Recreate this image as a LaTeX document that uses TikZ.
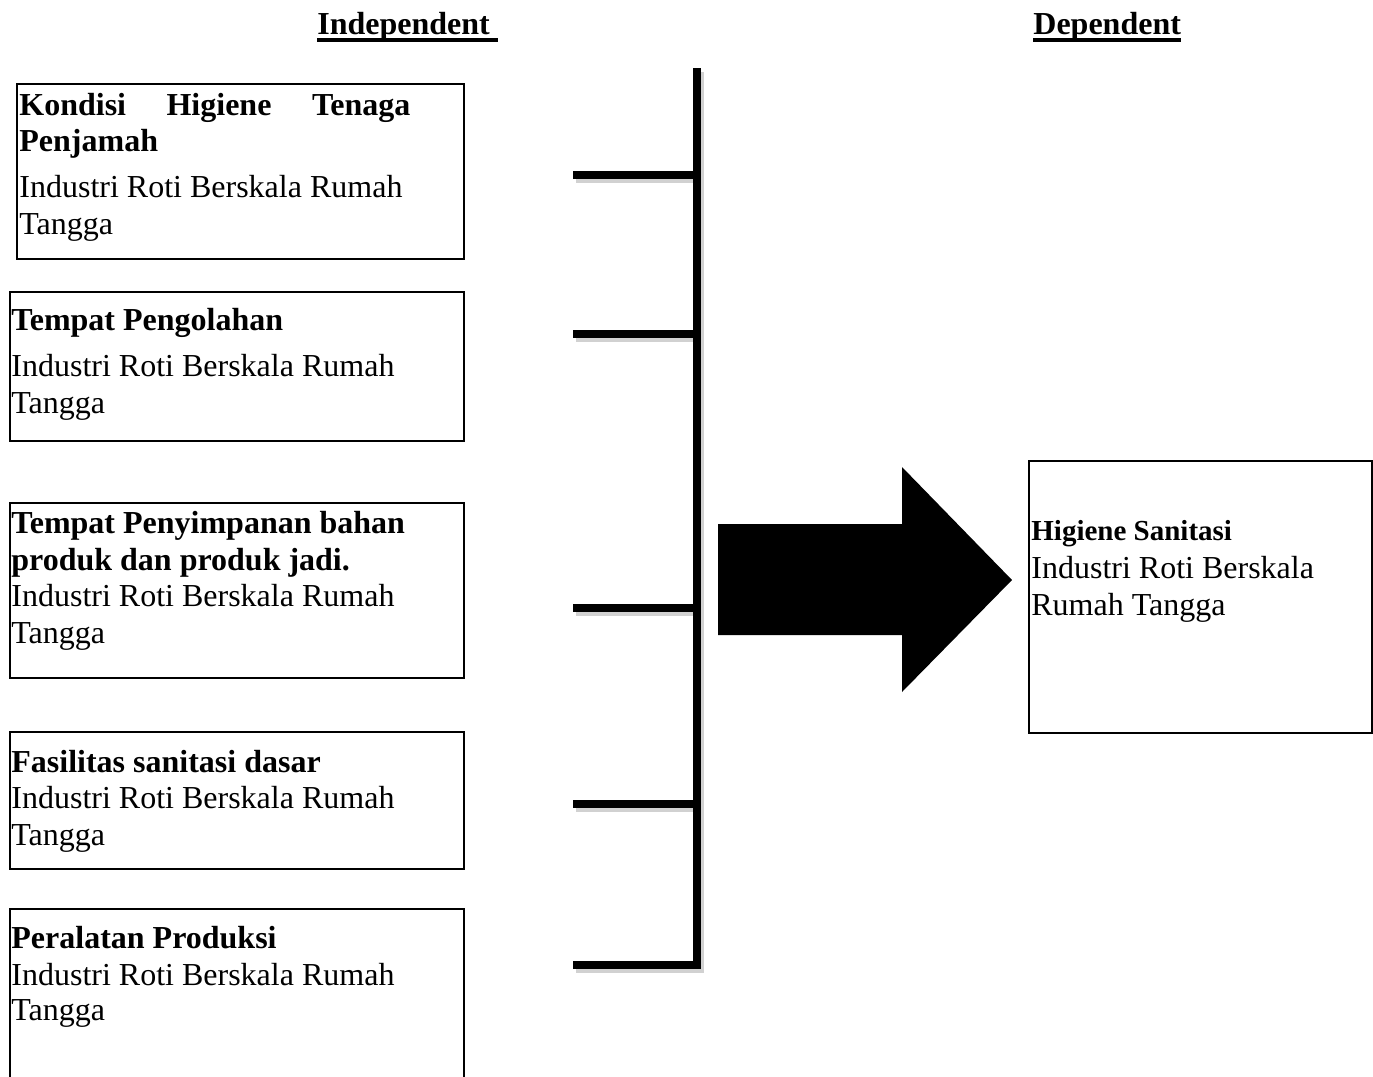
\documentclass[tikz,border=0pt]{standalone}
\usepackage{fontspec}
\setmainfont{Liberation Serif}
\newcommand\ulbox[1]{\setbox0\hbox{#1}\rlap{\rule[-3.9pt]{\wd0}{1.7pt}}\box0}
\begin{document}
\begin{tikzpicture}[x=0.5pt,y=-0.5pt,
  box/.style={draw, line width=1pt, inner sep=0pt},
  txt/.style={anchor=base west, inner sep=0pt, font=\fontsize{16pt}{19pt}\selectfont},
  hdr/.style={anchor=base west, inner sep=0pt, font=\fontsize{16pt}{19pt}\selectfont\bfseries},
  barline/.style={line width=4pt, line join=miter, line cap=butt},
  tickline/.style={line width=3.6pt, line cap=butt},
  shadowline/.style={line width=4pt, black!18, line cap=butt}
]
\useasboundingbox (0,0) rectangle (1373,1077);
\clip (0,0) rectangle (1373,1077);

% headers
\node[hdr] (indep) at (317,34) {\ulbox{Independent\ }};
\node[hdr] (dep) at (1033,34) {\ulbox{Dependent}};

% left boxes
\node[box, minimum width=223.5pt, minimum height=87.5pt] (b1) at (240.5,171.5) {};
\node[box, minimum width=227pt, minimum height=74.5pt] (b2) at (237,366.5) {};
\node[box, minimum width=227pt, minimum height=87.5pt] (b3) at (237,590.5) {};
\node[box, minimum width=227pt, minimum height=68.5pt] (b4) at (237,800.5) {};
\node[box, minimum width=227pt, minimum height=95.5pt] (b5) at (237,1004.5) {};

% box 1 text
\node[txt, font=\fontsize{16pt}{19pt}\selectfont\bfseries] (t1a) at (19,115) {\hbox to 195.5pt{Kondisi\hfill Higiene\hfill Tenaga}};
\node[txt, font=\fontsize{16pt}{19pt}\selectfont\bfseries] (t1b) at (19,151) {Penjamah};
\node[txt] (t1c) at (19,197) {Industri Roti Berskala Rumah};
\node[txt] (t1d) at (19,234) {Tangga};

% box 2 text
\node[txt, font=\fontsize{16pt}{19pt}\selectfont\bfseries] (t2a) at (11,330) {Tempat Pengolahan};
\node[txt] (t2b) at (11,376) {Industri Roti Berskala Rumah};
\node[txt] (t2c) at (11,413) {Tangga};

% box 3 text
\node[txt, font=\fontsize{16pt}{19pt}\selectfont\bfseries] (t3a) at (11,533) {Tempat Penyimpanan bahan};
\node[txt, font=\fontsize{16pt}{19pt}\selectfont\bfseries] (t3b) at (11,570) {produk dan produk jadi.};
\node[txt] (t3c) at (11,606) {Industri Roti Berskala Rumah};
\node[txt] (t3d) at (11,643) {Tangga};

% box 4 text
\node[txt, font=\fontsize{16pt}{19pt}\selectfont\bfseries] (t4a) at (11,772) {Fasilitas sanitasi dasar};
\node[txt] (t4b) at (11,808) {Industri Roti Berskala Rumah};
\node[txt] (t4c) at (11,845) {Tangga};

% box 5 text
\node[txt, font=\fontsize{16pt}{19pt}\selectfont\bfseries] (t5a) at (11,948) {Peralatan Produksi};
\node[txt] (t5b) at (11,985) {Industri Roti Berskala Rumah};
\node[txt] (t5c) at (11,1020) {Tangga};

% bracket bar with ticks
\coordinate (bartop) at (697,68);
\coordinate (barbot) at (697,965);
\coordinate (k1a) at (573,175); \coordinate (k1b) at (697,175);
\coordinate (k2a) at (573,334); \coordinate (k2b) at (697,334);
\coordinate (k3a) at (573,608); \coordinate (k3b) at (697,608);
\coordinate (k4a) at (573,804); \coordinate (k4b) at (697,804);
\coordinate (k5a) at (573,965);

% soft shadows
\draw[shadowline] ([shift={(3,4)}]bartop) -- ([shift={(3,4)}]barbot) -- ([shift={(3,4)}]k5a);
\foreach \i in {1,2,3,4}{
  \draw[shadowline] ([shift={(3,4)}]k\i a) -- ([shift={(3,4)}]k\i b);
}
\draw[barline] (bartop) -- (barbot) -- (k5a);
\foreach \i in {1,2,3,4}{
  \draw[tickline] (k\i a) -- (k\i b);
}

% big arrow
\fill[black] (718,524) -- (902,524) -- (902,467) -- (1012,580) -- (902,692) -- (902,635) -- (718,635) -- cycle;

% dependent box
\node[box, minimum width=171.5pt, minimum height=136pt] (bd) at (1200.5,597) {};
\node[txt, font=\fontsize{14.5pt}{19pt}\selectfont\bfseries] (tda) at (1031,540) {Higiene Sanitasi};
\node[txt] (tdb) at (1031,578) {Industri Roti Berskala};
\node[txt] (tdc) at (1031,615) {Rumah Tangga};
\end{tikzpicture}
\end{document}
